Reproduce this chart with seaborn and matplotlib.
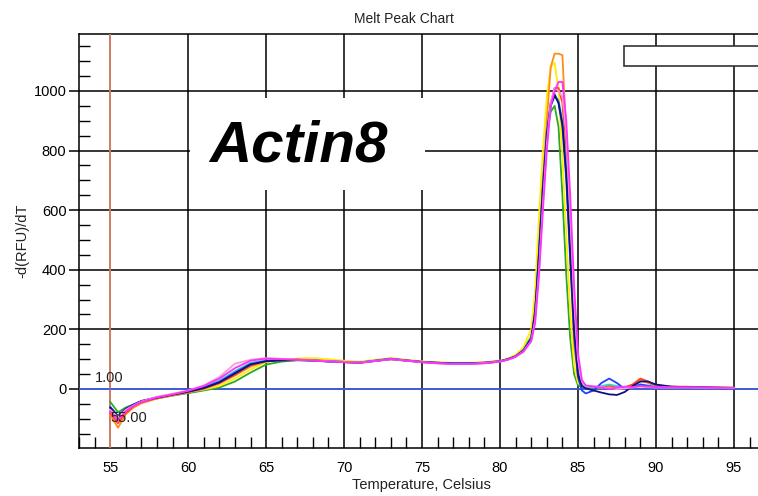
import numpy as np
import pandas as pd
import matplotlib
matplotlib.use("Agg")
import matplotlib.pyplot as plt
from matplotlib.patches import Rectangle
from matplotlib.ticker import MultipleLocator
import seaborn as sns

# Temperatures (Celsius) shared by all wells
temps = [55, 55.5, 56, 56.5, 57,
         58, 59, 60, 61, 62, 63, 64, 65, 66, 67, 68, 69, 70, 71, 72, 73, 74, 75, 76, 77, 78, 79, 80,
         80.5, 81, 81.5,
         82, 82.25, 82.5, 82.75, 83, 83.25, 83.5, 83.75, 84, 84.25, 84.5, 84.75, 85, 85.25, 85.5,
         86, 86.5, 87, 87.5, 88, 88.5, 89, 89.5, 90,
         91, 92, 93, 94, 95]

green = ([-43, -78, -62, -52, -42] +
         [-32, -22, -14, -5, 5, 25, 55, 82, 92, 96, 96, 93, 90, 89, 95, 100, 96, 91, 88, 86, 86, 87, 92] +
         [100, 112, 135] +
         [175, 290, 500, 700, 850, 930, 950, 880, 650, 380, 170, 50, 12, 6, 5] +
         [5, 4, 8, 6, 4, 6, 10, 8, 6] +
         [6, 5, 5, 4, 4])
yellow = ([-70, -100, -70, -55, -45] +
          [-30, -20, -10, -2, 10, 35, 65, 90, 98, 102, 104, 100, 95, 92, 98, 104, 98, 93, 90, 88, 88, 90, 95] +
          [102, 115, 140] +
          [200, 330, 580, 800, 980, 1080, 1095, 1000, 780, 520, 260, 80, 20, 8, 6] +
          [6, 5, 6, 5, 5, 7, 10, 8, 6] +
          [6, 6, 5, 5, 4])
orange = ([-85, -130, -85, -62, -48] +
          [-32, -22, -12, 0, 18, 45, 75, 92, 97, 98, 96, 93, 90, 88, 94, 100, 95, 90, 88, 85, 85, 88, 93] +
          [100, 110, 130] +
          [170, 260, 450, 700, 900, 1080, 1125, 1125, 1120, 850, 450, 150, 40, 10, 8] +
          [6, 5, 8, 6, 4, 10, 30, 20, 8] +
          [7, 8, 6, 5, 4])
red = ([-80, -115, -80, -58, -45] +
       [-30, -20, -10, 2, 20, 48, 80, 95, 98, 99, 97, 94, 91, 89, 95, 102, 96, 91, 88, 86, 86, 89, 94] +
       [100, 110, 128] +
       [165, 240, 420, 640, 840, 960, 1010, 1010, 960, 780, 520, 230, 60, 12, 8] +
       [7, 6, 12, 8, 6, 15, 35, 25, 10] +
       [8, 7, 6, 5, 4])
cyan = ([-65, -95, -68, -54, -42] +
        [-28, -18, -8, 5, 28, 60, 88, 96, 98, 98, 96, 93, 91, 89, 96, 102, 96, 91, 88, 86, 86, 88, 93] +
        [100, 110, 128] +
        [168, 250, 440, 660, 850, 950, 980, 970, 900, 740, 480, 220, 60, 15, 8] +
        [6, 10, 15, 10, 5, 8, 15, 12, 8] +
        [6, 5, 5, 4, 4])
blue = ([-60, -90, -66, -52, -40] +
        [-28, -18, -8, 4, 24, 55, 84, 94, 97, 98, 96, 93, 91, 89, 95, 101, 96, 91, 88, 86, 86, 88, 93] +
        [100, 110, 130] +
        [170, 260, 460, 680, 860, 960, 990, 960, 880, 700, 430, 180, 40, -5, -15] +
        [-5, 20, 35, 20, 0, 5, 15, 10, 6] +
        [6, 5, 5, 4, 3])
navy = ([-62, -92, -68, -53, -41] +
        [-29, -19, -9, 3, 22, 52, 82, 93, 96, 97, 95, 92, 90, 88, 94, 100, 95, 90, 87, 85, 85, 87, 92] +
        [99, 109, 128] +
        [168, 255, 450, 670, 850, 950, 985, 960, 890, 720, 460, 200, 50, 10, 2] +
        [-5, -12, -18, -20, -10, 10, 25, 25, 15] +
        [8, 6, 5, 4, 3])
pink = ([-70, -95, -70, -55, -42] +
        [-26, -16, -5, 12, 40, 85, 98, 104, 101, 98, 96, 93, 91, 89, 94, 100, 95, 90, 86, 84, 84, 87, 92] +
        [98, 108, 126] +
        [162, 230, 400, 620, 820, 960, 1010, 1000, 980, 860, 600, 300, 100, 25, 10] +
        [10, 6, 3, 0, 2, 5, 8, 6, 5] +
        [5, 5, 4, 4, 3])
magenta = ([-75, -105, -75, -56, -43] +
           [-28, -18, -6, 10, 35, 70, 95, 102, 100, 98, 96, 92, 90, 88, 94, 100, 95, 90, 86, 84, 84, 86, 92] +
           [98, 108, 125] +
           [160, 220, 380, 600, 800, 950, 1000, 1030, 1030, 900, 650, 350, 120, 30, 12] +
           [8, 5, 0, 5, 8, 6, 10, 8, 6] +
           [6, 5, 5, 4, 4])

series = {"green": green, "yellow": yellow, "orange": orange, "red": red,
          "cyan": cyan, "blue": blue, "navy": navy, "pink": pink, "magenta": magenta}
palette = {"green": "#2aa82a", "yellow": "#ffee00", "orange": "#ff8c1a", "red": "#ff4020",
           "cyan": "#40d0d0", "blue": "#2040ff", "navy": "#101080", "pink": "#ff9ad0",
           "magenta": "#ff30ff"}

x_ticks = [55, 60, 65, 70, 75, 80, 85, 90, 95]
y_ticks = [0, 200, 400, 600, 800, 1000]

df = pd.concat([pd.DataFrame({"temp": temps, "value": v, "well": k}) for k, v in series.items()],
               ignore_index=True)

sns.set_theme(style="white")
plt.rcParams["font.family"] = ["Liberation Sans", "DejaVu Sans"]

fig = plt.figure(figsize=(7.58, 4.96), dpi=100)
ax = fig.add_axes([79 / 758, 1 - 448 / 496, 683 / 758, 414 / 496])

sns.lineplot(data=df, x="temp", y="value", hue="well", palette=palette, legend=False,
             estimator=None, sort=False, linewidth=1.3, ax=ax, zorder=3)

ax.set_xlim(53.0, 96.8)
ax.set_ylim(-198, 1191)
ax.set_xticks(x_ticks)
ax.set_yticks(y_ticks)
ax.xaxis.set_minor_locator(MultipleLocator(1))
ax.yaxis.set_minor_locator(MultipleLocator(50))
ax.grid(True, which="major", color="black", linewidth=1.1)
ax.set_axisbelow(True)

ax.tick_params(axis="x", which="major", length=0, labelsize=10.5, pad=9, colors="black")
ax.tick_params(axis="x", which="minor", direction="in", length=8, width=1, color="black")
ax.tick_params(axis="y", which="major", direction="out", length=7, width=1.1, labelsize=10.5,
               pad=2, colors="black", left=True)
ax.tick_params(axis="y", which="minor", direction="in", length=8, width=1, color="black", left=True)
ax.tick_params(axis="x", which="both", bottom=True)

for side in ["left", "bottom", "top", "right"]:
    ax.spines[side].set_color("black")
    ax.spines[side].set_linewidth(1.1)

ax.axvline(55, color="#f08a70", linewidth=1.2, zorder=2.6)
ax.axhline(0, color="#4466ee", linewidth=1.2, zorder=2.6)

ax.text(54.04, 37, "1.00", ha="left", va="center", fontsize=10.5, color="#222222", zorder=5)
ax.text(55.0, -97, "55.00", ha="left", va="center", fontsize=10.5, color="#222222", zorder=5)

ax.set_title("Melt Peak Chart", fontsize=10, color="#222222", pad=8, x=0.476)
ax.set_xlabel("Temperature, Celsius", fontsize=10.5, color="#222222")
ax.set_ylabel("-d(RFU)/dT", fontsize=10.5, color="#222222")
ax.xaxis.set_label_coords(0.5007, -0.073)
ax.yaxis.set_label_coords(-0.073, 0.5)

# white box behind the label text
fig.patches.append(Rectangle((190 / 758, 1 - 190 / 496), 235 / 758, 92 / 496,
                             transform=fig.transFigure, facecolor="white", edgecolor="none",
                             zorder=5, figure=fig))
fig.text(298 / 758, 1 - 146 / 496, "Actin8", fontsize=42, fontweight="bold", fontstyle="italic",
         ha="center", va="center", color="black", zorder=6)

# empty legend frame at top right
fig.patches.append(Rectangle((624 / 758, 1 - 66 / 496), 140 / 758, 20 / 496,
                             transform=fig.transFigure, facecolor="white", edgecolor="#333333",
                             linewidth=1.2, zorder=5, figure=fig))

fig.savefig("out.png", dpi=100)
